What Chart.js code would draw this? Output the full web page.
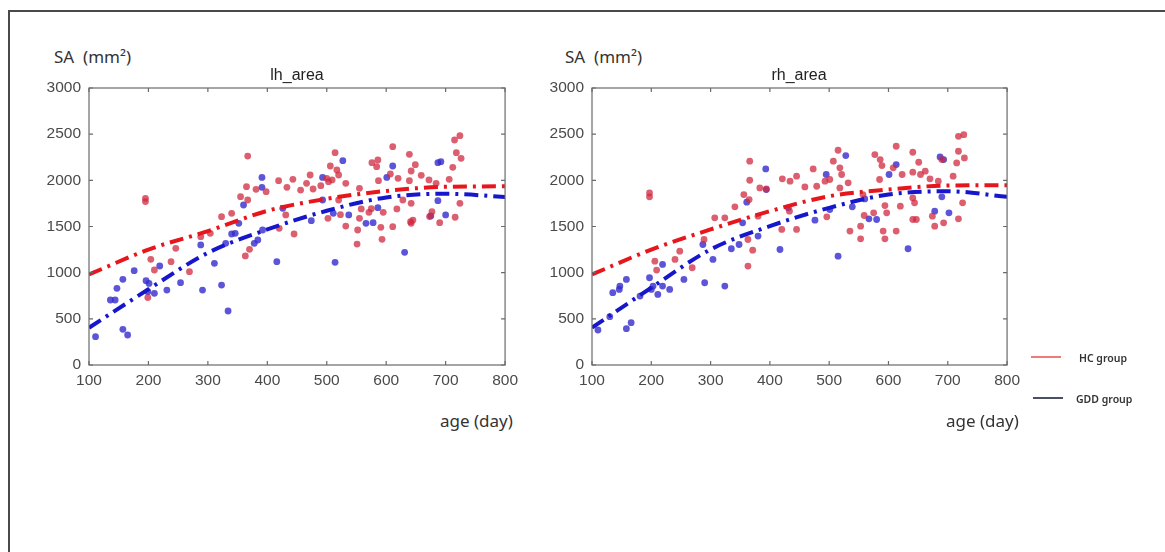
<!DOCTYPE html>
<html>
<head>
<meta charset="utf-8">
<script src="https://cdn.jsdelivr.net/npm/chart.js@4.4.1/dist/chart.umd.min.js"></script>
<style>
  body { margin: 0; background: #fff; width: 1165px; height: 552px; overflow: hidden; position: relative; }
  .frame { position: absolute; left: 8px; top: 10px; right: -10px; bottom: -10px; border: 2px solid #4a4a4a; }
  canvas { position: absolute; }
  .txt { position: absolute; white-space: pre; color: #333; line-height: 1; }
  .ylab { font: 17px "Noto Sans", sans-serif; }
  .ttl { font: 16px "Liberation Sans", Arial, sans-serif; color: #222; transform: translateX(-50%); }
  .xlab { font: 17px "Noto Sans", sans-serif; }
  .leg { font: 600 10.5px "Noto Sans", sans-serif; color: #333; }
  .legline { position: absolute; width: 30px; height: 1.5px; }
</style>
</head>
<body>
<div class="frame"></div>

<canvas id="lh" width="504" height="330" style="left:20px;top:70px"></canvas>
<canvas id="rh" width="503" height="330" style="left:523px;top:70px"></canvas>

<div class="txt ylab" style="left:54px;top:45px">SA  (mm²)</div>
<div class="txt ylab" style="left:565px;top:45px">SA  (mm²)</div>
<div class="txt ttl" style="left:297px;top:66px">lh_area</div>
<div class="txt ttl" style="left:799px;top:66px">rh_area</div>
<div class="txt xlab" style="left:440px;top:409px">age (day)</div>
<div class="txt xlab" style="left:946px;top:409px">age (day)</div>

<div class="legline" style="left:1031px;top:356px;background:#f07a7a"></div>
<div class="txt leg" style="left:1079px;top:351px">HC group</div>
<div class="legline" style="left:1033px;top:397px;background:#4b5060"></div>
<div class="txt leg" style="left:1076px;top:392px">GDD group</div>

<script>
// DATA
const fitAges = [100, 200, 300, 400, 500, 600, 700, 800]
const lhHcFit  = [980, 1250, 1450, 1670, 1800, 1885, 1930, 1935]
const lhGddFit = [404, 820, 1215, 1468, 1670, 1815, 1855, 1820]
const rhHcFit  = [980, 1250, 1468, 1666, 1828, 1900, 1944, 1947]
const rhGddFit = [404, 837, 1251, 1504, 1702, 1846, 1882, 1821]

const xTicks = [100, 200, 300, 400, 500, 600, 700, 800]
const yTicks = [0, 500, 1000, 1500, 2000, 2500, 3000]

// [age, SA]
const lhHc = [
  [195,1805],[195,1770],[204,1144],[210,1029],[199,730],[238,1119],[246,1264],[269,1011],
  [288,1390],[304,1426],[323,1606],[340,1643],[355,1823],[365,1931],[367,2263],[367,1787],
  [363,1181],[370,1253],[381,1903],[398,1877],[419,1996],[420,1480],[431,1625],[433,1924],
  [443,2011],[445,1419],[456,1895],[466,1968],[472,2058],[477,1906],[490,1942],[500,2022],
  [503,1986],[506,2155],[509,2004],[514,2300],[517,2112],[520,2058],[520,1787],[532,1968],
  [502,1588],[532,1505],[523,1628],[551,1310],[552,1462],[555,1588],[555,1913],[558,1690],
  [571,1653],[575,1693],[576,2191],[584,2148],[586,2220],[587,1996],[591,1491],[593,1361],
  [595,1653],[607,2069],[611,2365],[611,1498],[618,1690],[620,2022],[628,1787],[639,2282],
  [639,1996],[641,1552],[642,2101],[642,1751],[642,1534],[645,1570],[649,2170],[659,2054],
  [672,2004],[673,1607],[677,1661],[684,1968],[690,1541],[706,2011],[712,2141],[715,2437],
  [716,1600],[718,2300],[724,2484],[724,1751],[726,2238]
]
const lhGdd = [
  [111,307],[136,704],[144,704],[147,830],[157,928],[157,386],[165,325],[176,1022],
  [196,913],[199,794],[201,884],[210,776],[219,1072],[231,812],[254,892],[288,1300],
  [291,812],[311,1101],[323,866],[330,1318],[334,585],[340,1419],[346,1426],[352,1534],
  [360,1733],[378,1318],[384,1354],[391,2032],[391,1924],[392,1462],[416,1119],[426,1697],
  [474,1563],[493,2032],[493,1787],[511,1643],[514,1112],[527,2213],[537,1625],[566,1534],
  [578,1541],[586,1704],[601,2032],[611,2155],[631,1220],[675,1614],[687,1780],[687,2191],
  [692,2202],[700,1625]
]
const rhHc = [
  [197,1864],[197,1821],[206,1125],[209,1028],[240,1143],[248,1233],[269,1053],[289,1359],
  [307,1594],[324,1594],[341,1713],[356,1846],[366,2207],[366,2001],[365,1792],[363,1359],
  [363,1071],[371,1244],[380,1612],[383,1918],[394,1907],[421,2016],[434,1991],[445,2045],
  [459,1929],[473,2124],[479,1936],[493,1991],[501,2009],[496,1605],[420,1468],[445,1468],
  [433,1666],[507,2207],[515,2326],[518,2135],[521,2063],[532,1973],[518,1918],[535,1450],
  [553,1367],[553,1504],[559,1619],[557,1846],[577,2279],[586,2225],[589,2160],[585,2009],
  [575,1648],[594,1727],[591,1450],[594,1367],[597,1648],[613,2369],[608,2135],[613,1450],
  [620,1720],[623,2063],[641,2304],[641,2088],[651,2196],[662,2099],[654,2063],[641,1576],
  [647,1576],[644,1756],[641,1810],[670,2016],[674,1612],[678,1504],[693,1540],[690,2225],
  [709,2045],[715,2189],[718,2477],[727,2495],[718,2315],[728,2243],[725,1756],[718,1583],
  [684,1991]
]
const rhGdd = [
  [110,379],[130,523],[135,783],[147,855],[146,818],[158,927],[158,393],[166,458],
  [181,746],[197,945],[203,855],[200,818],[211,764],[219,1089],[219,855],[231,818],
  [255,927],[290,891],[287,1305],[304,1143],[324,855],[335,1259],[348,1305],[354,1540],
  [361,1763],[380,1396],[393,2124],[394,1900],[417,1251],[431,1702],[476,1569],[495,2063],
  [501,1684],[515,1179],[528,2268],[539,1713],[567,1583],[580,1576],[601,2063],[613,2171],
  [633,1259],[678,1666],[687,2254],[693,2225],[690,1821],[702,1648],[560,1799]
]

// STYLE
const RED_PT = 'rgba(208,42,64,0.75)'
const BLUE_PT = 'rgba(52,42,205,0.8)'
const RED_LINE = '#e6161c'
const BLUE_LINE = '#1616cc'

const toXY = pts => pts.map(p => ({x: p[0], y: p[1]}))
const fitXY = vals => fitAges.map((a, i) => ({x: a, y: vals[i]}))

// draws MATLAB-like box with inward ticks
const boxTicks = {
  id: 'boxTicks',
  afterDraw(chart) {
    const {ctx, chartArea: a, scales: {x, y}} = chart
    ctx.save()
    ctx.strokeStyle = '#6a6a6a'
    ctx.lineWidth = 1.2
    ctx.strokeRect(a.left, a.top, a.right - a.left, a.bottom - a.top)
    ctx.beginPath()
    xTicks.forEach(v => {
      const px = x.getPixelForValue(v)
      ctx.moveTo(px, a.bottom); ctx.lineTo(px, a.bottom - 4)
      ctx.moveTo(px, a.top); ctx.lineTo(px, a.top + 4)
    })
    yTicks.forEach(v => {
      const py = y.getPixelForValue(v)
      ctx.moveTo(a.left, py); ctx.lineTo(a.left + 4, py)
      ctx.moveTo(a.right, py); ctx.lineTo(a.right - 4, py)
    })
    ctx.stroke()
    ctx.restore()
  }
}

const tickFont = {family: '"Liberation Sans", Arial, sans-serif', size: 15.5}

const makeChart = (id, hc, gdd, hcFit, gddFit) => new Chart(document.getElementById(id), {
  type: 'scatter',
  data: {
    datasets: [
      {type: 'line', data: fitXY(hcFit), borderColor: RED_LINE, borderWidth: 4, borderDash: [14, 6, 3, 6],
       pointRadius: 0, cubicInterpolationMode: 'monotone', fill: false, order: 0},
      {type: 'line', data: fitXY(gddFit), borderColor: BLUE_LINE, borderWidth: 4, borderDash: [14, 6, 3, 6],
       pointRadius: 0, cubicInterpolationMode: 'monotone', fill: false, order: 0},
      {data: toXY(gdd), backgroundColor: BLUE_PT, borderWidth: 0, pointRadius: 3.4, order: 2},
      {data: toXY(hc), backgroundColor: RED_PT, borderWidth: 0, pointRadius: 3.4, order: 1},
    ]
  },
  options: {
    responsive: false,
    animation: false,
    devicePixelRatio: 1,
    layout: {padding: {top: 18, right: 0, left: 0, bottom: 0}},
    plugins: {legend: {display: false}, tooltip: {enabled: false}},
    scales: {
      x: {
        type: 'linear', min: 100, max: 800,
        afterBuildTicks: s => { s.ticks = xTicks.map(v => ({value: v})) },
        afterFit: s => { s.height = 35 },
        grid: {display: false, drawTicks: false},
        border: {display: false},
        ticks: {padding: 6, color: '#4a4a4a', font: tickFont, callback: v => String(v)}
      },
      y: {
        type: 'linear', min: 0, max: 3000,
        afterBuildTicks: s => { s.ticks = yTicks.map(v => ({value: v})) },
        afterFit: s => { s.width = 69 },
        grid: {display: false, drawTicks: false},
        border: {display: false},
        ticks: {padding: 8, color: '#4a4a4a', font: tickFont, callback: v => String(v)}
      }
    }
  },
  plugins: [boxTicks]
})

makeChart('lh', lhHc, lhGdd, lhHcFit, lhGddFit)
makeChart('rh', rhHc, rhGdd, rhHcFit, rhGddFit)
</script>
</body>
</html>
